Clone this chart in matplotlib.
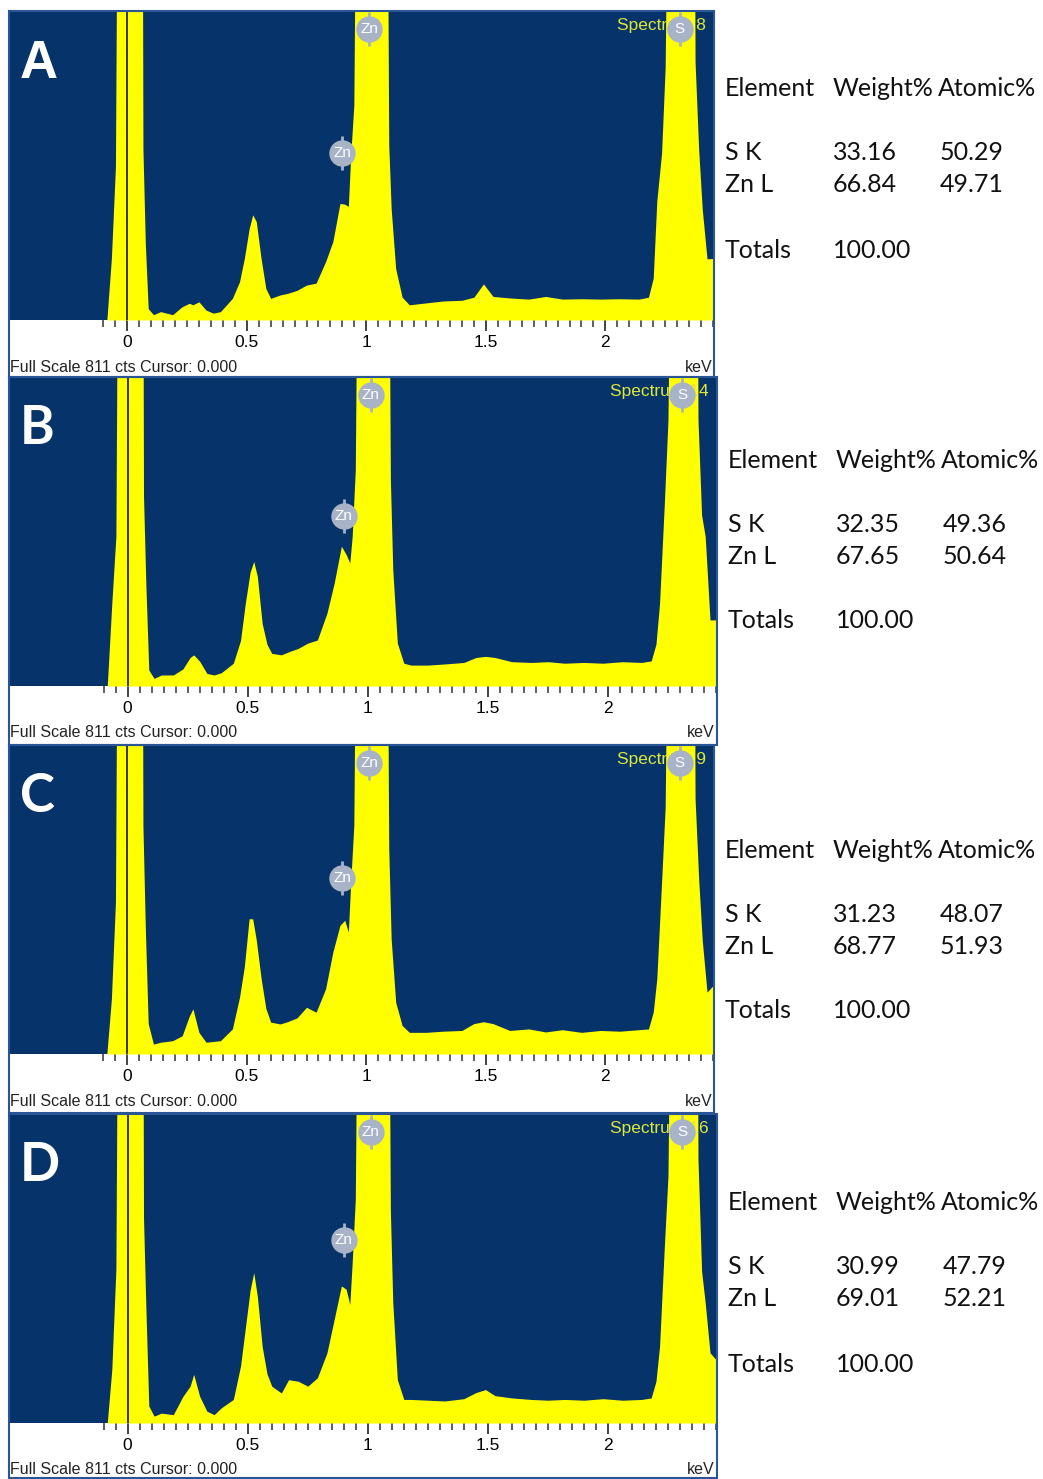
import numpy as np
import matplotlib
matplotlib.use("Agg")
from matplotlib import pyplot as plt
from matplotlib.patches import Rectangle

W, H = 1043, 1479

energy_kev = [-0.085, -0.066, -0.049, -0.039, 0.062, 0.066, 0.076, 0.088, 0.11, 0.14,
              0.19, 0.23, 0.26, 0.275, 0.30, 0.33, 0.36, 0.39, 0.44, 0.47,
              0.49, 0.51, 0.525, 0.54, 0.56, 0.58, 0.60, 0.64, 0.67, 0.71,
              0.75, 0.79, 0.83, 0.86, 0.89, 0.91, 0.925, 0.935, 0.948, 0.96,
              1.085, 1.094, 1.104, 1.123, 1.15, 1.18, 1.25, 1.32, 1.40, 1.45,
              1.49, 1.53, 1.60, 1.68, 1.75, 1.82, 1.90, 1.98, 2.06, 2.14,
              2.18, 2.20, 2.215, 2.235, 2.25, 2.265, 2.37, 2.375, 2.39, 2.405,
              2.425, 2.45]

# counts (off-scale peaks above 811 get clipped at full scale)
counts_a = [0, 162, 404, 1500, 1500, 450, 200, 30, 14, 22,
            14, 35, 44, 40, 48, 26, 18, 22, 57, 101,
            162, 240, 277, 259, 162, 83, 57, 66, 70, 78,
            92, 97, 154, 206, 307, 305, 299, 435, 566, 1500,
            1500, 461, 294, 135, 60, 40, 45, 50, 52, 60,
            95, 62, 58, 55, 62, 55, 56, 55, 56, 55,
            60, 110, 313, 440, 666, 1500, 1500, 680, 450, 292,
            161, 162]
counts_b = [0, 218, 394, 1500, 1500, 500, 262, 42, 20, 29,
            29, 45, 75, 82, 65, 33, 29, 35, 60, 120,
            218, 300, 328, 289, 165, 110, 86, 82, 90, 99,
            113, 121, 192, 271, 368, 346, 324, 394, 570, 1500,
            1500, 544, 306, 113, 60, 55, 55, 58, 62, 75,
            78, 75, 64, 62, 64, 60, 62, 60, 64, 62,
            66, 110, 218, 482, 700, 1500, 1500, 702, 450, 394,
            174, 174]
counts_c = [0, 145, 400, 1500, 1500, 600, 330, 80, 26, 31,
            35, 48, 100, 119, 57, 31, 33, 35, 66, 150,
            230, 356, 356, 300, 200, 120, 84, 79, 85, 95,
            123, 110, 172, 268, 339, 352, 321, 453, 603, 1500,
            1500, 541, 304, 136, 75, 57, 57, 60, 62, 80,
            85, 80, 62, 66, 58, 64, 57, 62, 60, 64,
            66, 110, 198, 453, 650, 1500, 1500, 673, 462, 300,
            163, 180]
counts_d = [0, 141, 405, 1500, 1500, 540, 300, 45, 18, 26,
            22, 70, 97, 128, 70, 31, 22, 40, 62, 150,
            250, 350, 396, 334, 202, 130, 97, 79, 114, 110,
            97, 119, 185, 273, 361, 352, 312, 422, 590, 1500,
            1500, 559, 317, 114, 62, 62, 60, 58, 64, 80,
            88, 72, 66, 62, 60, 62, 60, 64, 60, 62,
            66, 110, 202, 466, 650, 1500, 1500, 695, 400, 317,
            185, 167]

full_scale = 811
panel_letters = ["A", "B", "C", "D"]
spectrum_names = ["Spectrum 8", "Spectrum 14", "Spectrum 9", "Spectrum 16"]
zn_l_marker_counts = [440, 448, 463, 482]
weight_sk = ["33.16", "32.35", "31.23", "30.99"]
weight_znl = ["66.84", "67.65", "68.77", "69.01"]
atomic_sk = ["50.29", "49.36", "48.07", "47.79"]
atomic_znl = ["49.71", "50.64", "51.93", "52.21"]
totals = ["100.00"] * 4
all_counts = [counts_a, counts_b, counts_c, counts_d]

# panel geometry in pixels
panel_top = [12, 378, 746, 1115]
panel_base = [320, 686, 1054, 1423]
strip_bottom = [377, 745, 1113, 1478]
panel_right = [713, 716, 713, 716]
table_x = [725, 728, 725, 728]
table_y = [89, 460, 850, 1203]

NAVY = "#06336a"
YELLOW = "#ffff00"
MARKER_GREY = "#a9b3c7"

fig = plt.figure(figsize=(W / 100, H / 100), dpi=100)
fig.patch.set_facecolor("white")


def fx(px):
    return px / W


def fy(py):
    return 1 - py / H


for i in range(4):
    top, base, right = panel_top[i], panel_base[i], panel_right[i]
    ax = fig.add_axes([fx(10), fy(base), fx(right) - fx(10), (base - top) / H])
    ax.set_facecolor(NAVY)
    ax.fill_between(energy_kev, all_counts[i], 0, color=YELLOW, lw=0, zorder=2)
    ax.axvline(0.0, color="black", lw=1.1, zorder=3)
    ax.set_xlim(-0.49, 2.45)
    ax.set_ylim(0, full_scale)
    for s in ax.spines.values():
        s.set_visible(False)
    ax.set_yticks([])
    ax.set_xticks([0, 0.5, 1, 1.5, 2])
    ax.set_xticklabels(["0", "0.5", "1", "1.5", "2"], family="Liberation Sans", fontsize=12.5)
    ax.set_xticks(np.arange(-0.1, 2.46, 0.05), minor=True)
    ax.tick_params(axis="x", which="major", direction="out", length=8, width=1.3,
                   color="#333333", pad=3)
    ax.tick_params(axis="x", which="minor", direction="out", length=5, width=1.1,
                   color="#333333")

    # element markers
    for ex, ey, lab in [(1.012, 765, "Zn"), (0.90, zn_l_marker_counts[i], "Zn"),
                        (2.31, 765, "S")]:
        ax.plot(ex, ey, marker="|", ms=25, mew=2, color=MARKER_GREY, zorder=5)
        ax.plot(ex, ey, marker="o", ms=19, mew=0, color=MARKER_GREY, zorder=6)
        ax.text(ex, ey, lab, color="white", fontsize=11, ha="center", va="center",
                family="Liberation Sans", zorder=7)

    ax.text(0.99, 0.955, spectrum_names[i], transform=ax.transAxes, ha="right",
            va="center", color="#dde83a", fontsize=12.5, family="Liberation Sans", zorder=4)

    fig.text(fx(20), fy(top + 66), panel_letters[i], color="white", fontsize=38,
             fontweight="bold", family="Liberation Sans" if i == 0 else "Lato",
             va="baseline", ha="left")

    fig.text(fx(10), fy(base + 47), "Full Scale 811 cts Cursor: 0.000", fontsize=11.5,
             family="Liberation Sans", va="center", ha="left", color="#222222")
    fig.text(fx(right - 1), fy(base + 47), "keV", fontsize=11.5,
             family="Liberation Sans", va="center", ha="right", color="#222222")

    fig.patches.append(Rectangle((fx(9), fy(strip_bottom[i])), fx(right + 1) - fx(9),
                                 (strip_bottom[i] - top + 1) / H, transform=fig.transFigure,
                                 fill=False, edgecolor="#2a5597", lw=1.5))

    # composition table
    tx, ty = table_x[i], table_y[i]
    tfont = dict(fontsize=18, family="Lato", va="center", ha="left", color="#111111")
    fig.text(fx(tx), fy(ty), "Element", **tfont)
    fig.text(fx(tx + 108), fy(ty), "Weight%", **tfont)
    fig.text(fx(tx + 213), fy(ty), "Atomic%", **tfont)
    fig.text(fx(tx), fy(ty + 64), "S K", **tfont)
    fig.text(fx(tx + 108), fy(ty + 64), weight_sk[i], **tfont)
    fig.text(fx(tx + 215), fy(ty + 64), atomic_sk[i], **tfont)
    fig.text(fx(tx), fy(ty + 96), "Zn L", **tfont)
    fig.text(fx(tx + 108), fy(ty + 96), weight_znl[i], **tfont)
    fig.text(fx(tx + 215), fy(ty + 96), atomic_znl[i], **tfont)
    fig.text(fx(tx), fy(ty + 161), "Totals", **tfont)
    fig.text(fx(tx + 108), fy(ty + 161), totals[i], **tfont)

fig.savefig("out.png", dpi=100)
